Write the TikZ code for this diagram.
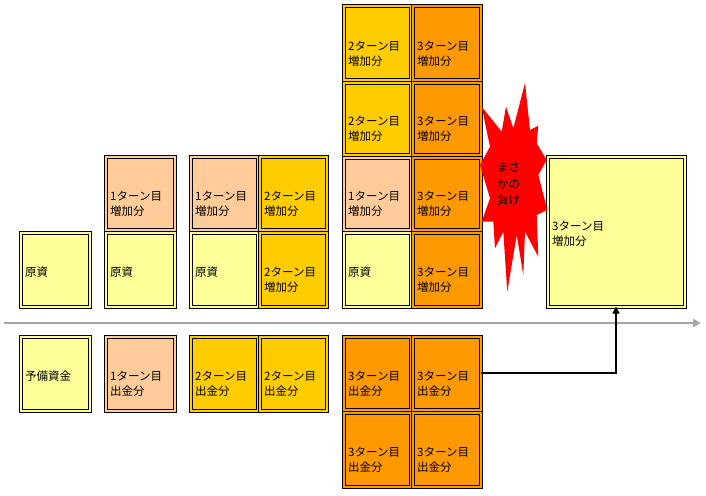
\documentclass[tikz,border=0pt]{standalone}
\usepackage{fontspec}
\newfontfamily\jp{Noto Sans CJK JP}
\usetikzlibrary{calc,arrows.meta}
\definecolor{cyel}{HTML}{FFFF99}
\definecolor{cpea}{HTML}{FFCC99}
\definecolor{cgol}{HTML}{FFCC00}
\definecolor{cora}{HTML}{FF9900}
\definecolor{axgray}{HTML}{A6A6A6}
\tikzset{
  cellbox/.style={draw=black, line width=1pt, double distance=2pt, inner sep=0pt, outer sep=0pt},
  lbl/.style={font=\jp\fontsize{11.5}{15}\selectfont, align=left, inner sep=0pt, anchor=west},
  boom/.style={fill=red, draw=none},
  axis/.style={draw=axgray, line width=2pt, -{Triangle[length=8pt,width=8pt]}},
  conn/.style={draw=black, line width=1.5pt, -{Triangle[length=7pt,width=7pt]}},
}
% name, cx, cy, w, h, colour, text, text y-offset
\newcommand\mkcell[8]{%
  \node[cellbox, fill=#6, double=#6, minimum width=#4-3, minimum height=#5-3] (#1) at (#2,#3) {};
  \node[lbl] (#1t) at ($(#1.west)+(4.5,#8)$) {#7};
}
\begin{document}
\begin{tikzpicture}[x=1pt,y=-1pt]
\useasboundingbox (0,0) rectangle (706,495);
% axis
\coordinate (axL) at (4,323);
\coordinate (axR) at (701,323);
\draw[axis] (axL) -- (axR);
% upper column 1
\mkcell{ua1}{55}{269.5}{72}{77}{cyel}{原資}{3}
% column 2
\mkcell{ub1}{140}{269.5}{72}{77}{cyel}{原資}{3}
\mkcell{ub2}{140}{193}{72}{76}{cpea}{1ターン目\\増加分}{10.5}
% column 3
\mkcell{uc1}{224}{269.5}{70}{77}{cyel}{原資}{3}
\mkcell{uc2}{224}{193}{70}{76}{cpea}{1ターン目\\増加分}{10.5}
% column 4
\mkcell{ud1}{293}{269.5}{70}{77}{cgol}{2ターン目\\増加分}{10.5}
\mkcell{ud2}{293}{193}{70}{76}{cgol}{2ターン目\\増加分}{10.5}
% column 5
\mkcell{ue1}{377}{269.5}{70}{77}{cyel}{原資}{3}
\mkcell{ue2}{377}{193.5}{70}{75}{cpea}{1ターン目\\増加分}{10.5}
\mkcell{ue3}{377}{118.5}{70}{75}{cgol}{2ターン目\\増加分}{10.5}
\mkcell{ue4}{377}{43}{70}{76}{cgol}{2ターン目\\増加分}{10.5}
% column 6
\mkcell{uf1}{446.5}{269.5}{71}{77}{cora}{3ターン目\\増加分}{10.5}
\mkcell{uf2}{446.5}{193.5}{71}{75}{cora}{3ターン目\\増加分}{10.5}
\mkcell{uf3}{446.5}{118.5}{71}{75}{cora}{3ターン目\\増加分}{10.5}
\mkcell{uf4}{446.5}{43}{71}{76}{cora}{3ターン目\\増加分}{10.5}
% lower row
\mkcell{la1}{55}{373.5}{72}{77}{cyel}{予備資金}{3}
\mkcell{lb1}{140}{373.5}{72}{77}{cpea}{1ターン目\\出金分}{10.5}
\mkcell{lc1}{224}{373.5}{70}{77}{cgol}{2ターン目\\出金分}{10.5}
\mkcell{ld1}{293}{373.5}{70}{77}{cgol}{2ターン目\\出金分}{10.5}
\mkcell{le1}{377}{373}{70}{76}{cora}{3ターン目\\出金分}{10.5}
\mkcell{lf1}{446.5}{373}{71}{76}{cora}{3ターン目\\出金分}{10.5}
\mkcell{le2}{377}{449.5}{70}{77}{cora}{3ターン目\\出金分}{10.5}
\mkcell{lf2}{446.5}{449.5}{71}{77}{cora}{3ターン目\\出金分}{10.5}
% big result box
\mkcell{big}{616}{231.5}{140}{153}{cyel}{3ターン目\\増加分}{2.7}
% explosion
\path[boom] (525,83) -- (530,130) -- (538.3,125.7) -- (536.7,143.3) -- (546.7,160)
  -- (538.3,175) -- (547.3,210) -- (536.7,215) -- (538.3,256.7) -- (525,231.7)
  -- (523.3,275) -- (516.7,235) -- (507.3,291.7) -- (503.3,231.7) -- (495,248.3)
  -- (493.3,221.7) -- (481.7,221.7) -- (490,198.3) -- (480,165) -- (490,146.7)
  -- (481.7,106.7) -- (501.7,131.7) -- (506,106.7) -- (513.3,128.3) -- cycle;
\node[font=\jp\fontsize{11.5}{16.5}\selectfont, align=center, inner sep=0pt] (boomt) at (508.5,184) {まさ\\かの\\負け};
% connector
\draw[conn] (lf1.east) -| (big.south);
\end{tikzpicture}
\end{document}
